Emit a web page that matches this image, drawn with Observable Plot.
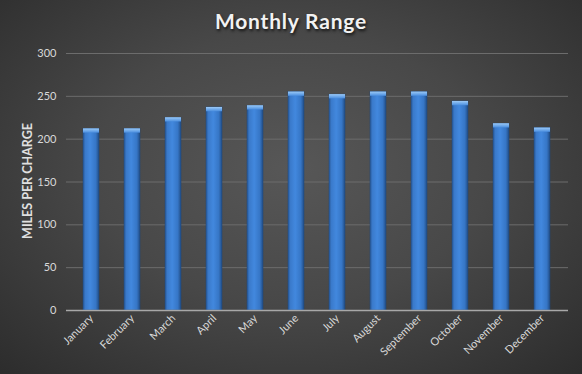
<!DOCTYPE html>
<html><head><meta charset="utf-8">
<script src="https://cdn.jsdelivr.net/npm/d3@7"></script>
<script src="https://cdn.jsdelivr.net/npm/@observablehq/plot@0.6"></script>
<style>
html,body{margin:0;padding:0;background:#2a2a2a;}
body{width:582px;height:374px;overflow:hidden;}
#wrap{position:relative;width:582px;height:374px;background:radial-gradient(ellipse 75% 80% at 50% 45%, #575757 0%, #484848 45%, #2a2a2a 100%);}
#title{position:absolute;left:0;top:8px;width:582px;text-align:center;font-family:Lato,"Open Sans",sans-serif;font-weight:bold;font-size:21px;color:#f2f2f2;text-shadow:1px 2px 3px rgba(0,0,0,0.75);letter-spacing:0.8px;}
#ylabel{position:absolute;left:27px;top:181px;transform:translate(-50%,-50%) rotate(-90deg);white-space:nowrap;font-family:Lato,"Open Sans",sans-serif;font-weight:bold;font-size:12.5px;color:#e0e0e0;}
#wrap svg{position:absolute;left:0;top:0;}
</style>
</head><body>
<div id="wrap"><div id="title">Monthly Range</div><div id="ylabel">MILES PER CHARGE</div></div>
<script>
const months = ["January","February","March","April","May","June","July","August","September","October","November","December"];
const range = [212,212,225,237,239,255,252,255,255,244,218,213];
const yTicks = [0,50,100,150,200,250,300];
const data = months.map((m,i)=>({month:m, value:range[i]}));

const chart = Plot.plot({
  width:582, height:374,
  marginTop:53, marginBottom:64, marginLeft:66, marginRight:14,
  style:{background:"transparent", color:"#d9d9d9", fontFamily:"Lato, 'Open Sans', sans-serif", fontSize:"11px", overflow:"visible"},
  x:{domain:months, paddingInner:0.6, paddingOuter:0.3, label:null},
  y:{domain:[0,300], ticks:yTicks, label:null},
  marks:[
    Plot.gridY(yTicks.filter(d=>d>0), {stroke:"#6c6c6c", strokeOpacity:1, strokeWidth:1}),
    Plot.barY(data,{x:"month", y:"value", fill:"url(#barGrad)", stroke:"#1f4a80", strokeWidth:0.5}),
    Plot.barY(data,{x:"month", y1:d=>d.value-5, y2:"value", fill:"url(#capGrad)"}),
    Plot.ruleY([0],{stroke:"#a8a8a8", strokeWidth:1.5}),
    Plot.axisX({tickRotate:-45, tickSize:0, tickPadding:6, fontSize:11, label:null}),
    Plot.axisY({ticks:yTicks, tickSize:0, tickPadding:10, label:null, fontSize:11})
  ]
});
const svg = d3.select(chart);
const defs = svg.insert("defs", ":first-child");
const g = defs.append("linearGradient").attr("id","barGrad").attr("x1","0").attr("x2","1").attr("y1","0").attr("y2","0");
[[0,"#2a5a99"],[0.15,"#3a7acb"],[0.45,"#4288de"],[0.8,"#3676c6"],[1,"#224d85"]].forEach(([o,c])=>g.append("stop").attr("offset",o).attr("stop-color",c));
const c = defs.append("linearGradient").attr("id","capGrad").attr("x1","0").attr("x2","0").attr("y1","0").attr("y2","1");
[[0,"#9cc9f5"],[0.6,"#6aa6ea"],[1,"#4a8ddd"]].forEach(([o,col])=>c.append("stop").attr("offset",o).attr("stop-color",col));
document.getElementById("wrap").appendChild(chart);
</script>
</body></html>
